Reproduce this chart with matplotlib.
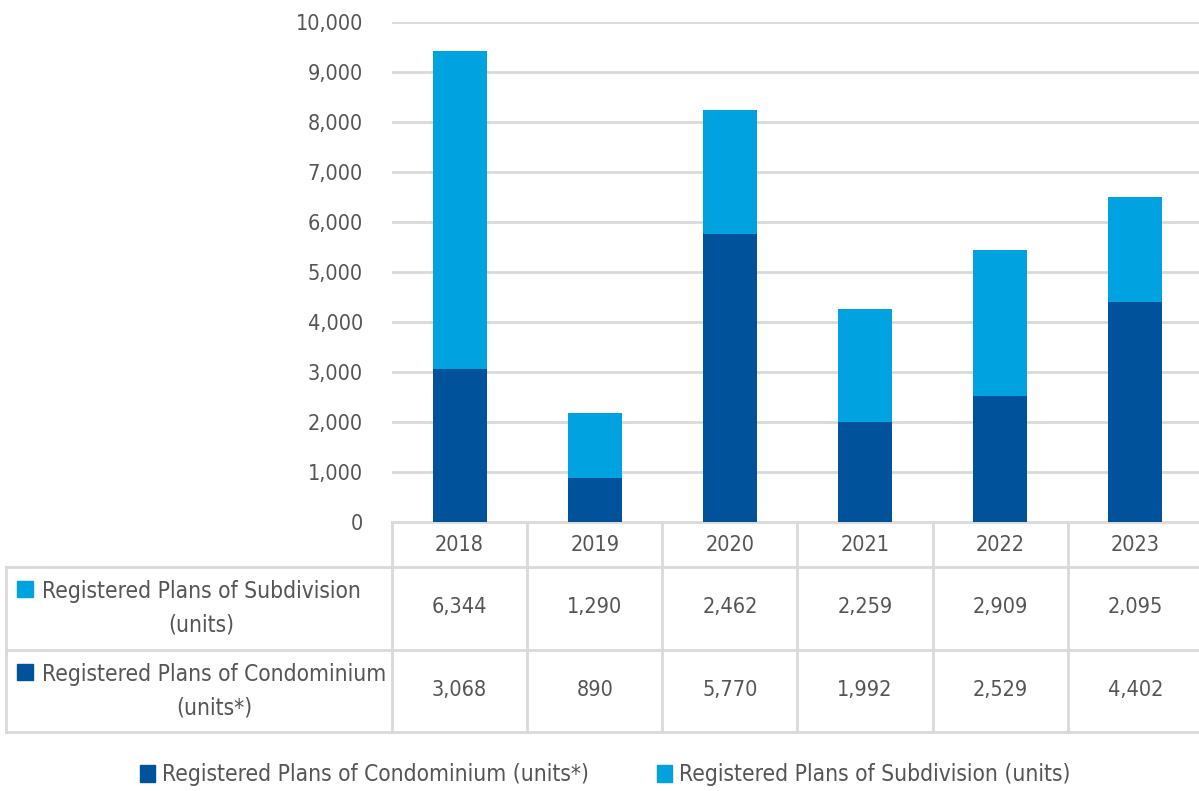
import matplotlib
matplotlib.use("Agg")
import matplotlib.pyplot as plt
from matplotlib.patches import Rectangle
from matplotlib.ticker import FuncFormatter
import matplotlib.transforms as mtrans

plt.rcParams['font.family'] = ['DejaVu Sans']
plt.rcParams['font.stretch'] = 'condensed'

years = ['2018', '2019', '2020', '2021', '2022', '2023']
condo = [3068, 890, 5770, 1992, 2529, 4402]
subdiv = [6344, 1290, 2462, 2259, 2909, 2095]

condo_label = 'Registered Plans of Condominium (units*)'
subdiv_label = 'Registered Plans of Subdivision (units)'
condo_row = 'Registered Plans of Condominium\n(units*)'
subdiv_row = 'Registered Plans of Subdivision\n(units)'

dark = '#00539B'
light = '#00A3E0'
txt = '#555555'
grid = '#D9D9D9'

W, H = 1199, 791
fig = plt.figure(figsize=(W / 100, H / 100), dpi=100)

# main chart axes, placed in pixel terms
L, R, T, B = 392, 1203, 22, 522
ax = fig.add_axes([L / W, 1 - B / H, (R - L) / W, (B - T) / H])
x = range(len(years))
ax.bar(x, condo, width=0.4, color=dark, zorder=3)
ax.bar(x, subdiv, width=0.4, bottom=condo, color=light, zorder=3)
ax.set_xlim(-0.5, len(years) - 0.5)
ax.set_ylim(0, 10000)
ax.set_yticks(range(0, 10001, 1000))
ax.yaxis.set_major_formatter(FuncFormatter(lambda v, p: f'{int(v):,}'))
ax.tick_params(axis='y', length=0, pad=21, labelsize=15.5, labelcolor=txt)
ax.set_xticks([])
ax.grid(axis='y', color=grid, lw=2, zorder=0)
for s in ax.spines.values():
    s.set_visible(False)

# overlay in pixel coords for the data table and legend
ov = fig.add_axes([0, 0, 1, 1], zorder=-1)
ov.set_xlim(0, W)
ov.set_ylim(H, 0)
ov.axis('off')
bt = mtrans.blended_transform_factory(ax.transData, ov.transData)

lc = dict(color=grid, lw=2)
ov.plot([L, W], [B, B], **lc)
for yy in (567, 650, 732):
    ov.plot([6, W], [yy, yy], **lc)
ov.plot([6, 6], [567, 732], **lc)
for i in range(len(years) + 1):
    ov.plot([i - 0.5, i - 0.5], [B, 732], transform=bt, **lc)

nfs = 15.5
for i, yr in enumerate(years):
    ov.text(i, 545, yr, transform=bt, ha='center', va='center', fontsize=nfs, color=txt)
    ov.text(i, 607, f'{subdiv[i]:,}', transform=bt, ha='center', va='center', fontsize=nfs, color=txt)
    ov.text(i, 690, f'{condo[i]:,}', transform=bt, ha='center', va='center', fontsize=nfs, color=txt)

# row labels with colour keys
fs = 16.3
for yc, lab, col in ((608, subdiv_row, light), (691, condo_row, dark)):
    ov.add_patch(Rectangle((17, yc - 27), 16, 16, color=col))
    ov.text(42, yc, lab, ha='left', va='center', fontsize=fs, color=txt,
            multialignment='center', linespacing=1.6)

# bottom legend
for xm, lab, col in ((140, condo_label, dark), (657, subdiv_label, light)):
    ov.add_patch(Rectangle((xm, 765), 15, 17, color=col))
    ov.text(xm + 22, 774, lab, ha='left', va='center', fontsize=fs, color=txt)

fig.savefig('out.png', dpi=100)
